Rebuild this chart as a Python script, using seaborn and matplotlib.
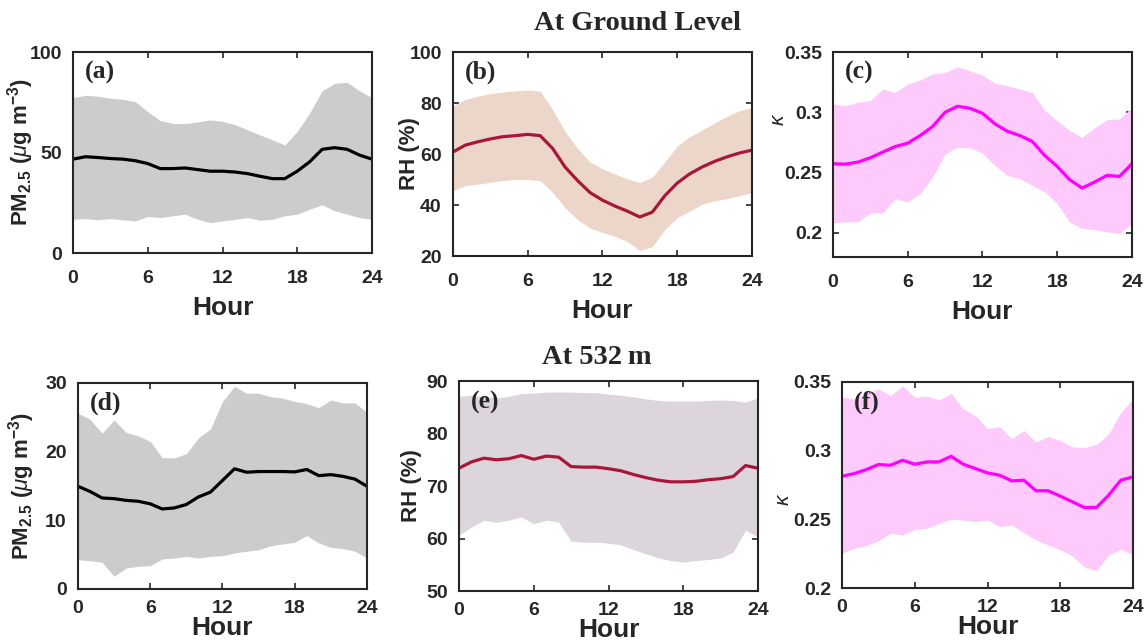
import numpy as np
import pandas as pd
import matplotlib
matplotlib.use("Agg")
import matplotlib.pyplot as plt
import seaborn as sns

# Diurnal data (hour 0..24)
hours = list(range(25))

# (a) PM2.5 at ground level
pm_g_mean = [46.7, 47.9, 47.5, 47.0, 46.7, 45.9, 44.5, 42.0, 42.0, 42.3, 41.5, 40.7, 40.7,
             40.3, 39.5, 38.2, 37.0, 37.0, 40.7, 45.4, 51.6, 52.4, 51.6, 48.7, 46.7]
pm_g_hi = [77.3, 78.5, 78.0, 77.0, 76.5, 75.3, 70.3, 65.9, 64.5, 64.4, 65.2, 66.2, 65.5,
           63.9, 61.3, 58.8, 56.3, 53.8, 60.5, 69.7, 80.7, 84.4, 84.9, 80.7, 77.3]
pm_g_lo = [16.8, 17.1, 16.5, 17.1, 16.5, 16.0, 18.2, 17.6, 18.5, 19.3, 16.8, 15.1, 16.0,
           16.8, 17.6, 16.3, 16.8, 18.5, 19.3, 21.8, 24.0, 21.0, 19.3, 17.6, 16.8]

# (b) RH at ground level
rh_g_mean = [60.8, 63.5, 64.8, 65.9, 66.8, 67.2, 67.7, 67.2, 62.2, 54.9, 49.6, 44.9, 41.9,
             39.6, 37.6, 35.3, 37.2, 43.6, 48.6, 52.2, 54.9, 57.1, 58.9, 60.4, 61.5]
rh_g_hi = [78.8, 81.4, 82.7, 83.7, 84.3, 84.7, 85.1, 84.7, 77.4, 68.8, 62.2, 56.9, 54.2,
           52.2, 50.2, 48.9, 50.9, 56.9, 63.1, 66.8, 69.5, 72.1, 74.8, 77.0, 78.1]
rh_g_lo = [45.6, 47.6, 48.2, 48.9, 49.6, 50.0, 50.0, 49.6, 44.9, 39.0, 34.3, 31.0, 29.3,
           27.7, 25.7, 22.1, 23.7, 30.3, 35.0, 37.6, 40.3, 41.6, 42.5, 43.6, 44.9]

# (c) kappa at ground level
k_g_mean = [0.2573, 0.2570, 0.2587, 0.2623, 0.2670, 0.2716, 0.2744, 0.2807, 0.2882, 0.3000,
            0.3050, 0.3033, 0.2992, 0.2904, 0.2843, 0.2807, 0.2758, 0.2642, 0.2551, 0.2441,
            0.2372, 0.2421, 0.2477, 0.2468, 0.2573]
k_g_hi = [0.3069, 0.3055, 0.3083, 0.3096, 0.3193, 0.3165, 0.3234, 0.3267, 0.3317, 0.3330,
          0.3377, 0.3344, 0.3309, 0.3240, 0.3220, 0.3193, 0.3165, 0.3014, 0.2931, 0.2849,
          0.2793, 0.2871, 0.2939, 0.2945, 0.3041]
k_g_lo = [0.2083, 0.2091, 0.2091, 0.2165, 0.2165, 0.2284, 0.2256, 0.2325, 0.2463, 0.2656,
          0.2711, 0.2705, 0.2661, 0.2559, 0.2477, 0.2449, 0.2394, 0.2339, 0.2242, 0.2091,
          0.2036, 0.2028, 0.2008, 0.1994, 0.2077]

# (d) PM2.5 at 532 m
pm_t_mean = [14.95, 14.2, 13.25, 13.15, 12.9, 12.77, 12.4, 11.65, 11.8, 12.3, 13.4, 14.1, 15.8,
             17.5, 17.0, 17.1, 17.1, 17.1, 17.05, 17.4, 16.5, 16.65, 16.4, 16.0, 14.95]
pm_t_hi = [25.6, 24.7, 22.7, 24.6, 22.8, 22.3, 21.5, 19.1, 19.1, 19.7, 22.0, 23.3, 27.3,
           29.5, 28.5, 28.5, 28.0, 27.8, 27.3, 27.0, 26.4, 27.5, 27.1, 27.1, 25.7]
pm_t_lo = [4.27, 4.1, 3.9, 1.85, 3.05, 3.3, 3.4, 4.37, 4.5, 4.75, 4.5, 4.75, 4.85,
           5.24, 5.5, 5.7, 6.3, 6.55, 6.8, 7.77, 6.7, 6.07, 5.87, 5.5, 4.5]

# (e) RH at 532 m
rh_t_mean = [73.4, 74.6, 75.3, 75.0, 75.2, 75.8, 75.1, 75.7, 75.5, 73.7, 73.6, 73.6, 73.3,
             72.9, 72.2, 71.6, 71.1, 70.8, 70.8, 70.9, 71.2, 71.4, 71.8, 73.9, 73.4]
rh_t_hi = [87.1, 87.3, 87.0, 86.8, 87.1, 87.6, 87.7, 87.9, 87.9, 87.9, 87.8, 87.8, 87.5,
           87.3, 87.0, 86.6, 86.3, 86.2, 86.2, 86.2, 86.3, 86.4, 86.3, 86.0, 86.8]
rh_t_lo = [60.6, 62.2, 63.5, 63.1, 63.5, 64.1, 62.8, 63.5, 63.1, 59.5, 59.3, 59.3, 59.1,
           58.8, 57.9, 57.1, 56.3, 55.8, 55.5, 55.8, 56.0, 56.3, 57.4, 61.6, 60.3]

# (f) kappa at 532 m
k_t_mean = [0.2814, 0.2833, 0.2862, 0.2899, 0.2894, 0.2930, 0.2901, 0.2918, 0.2918, 0.2959,
            0.2901, 0.2870, 0.2838, 0.2821, 0.2780, 0.2785, 0.2708, 0.2708, 0.2669, 0.2628,
            0.2585, 0.2587, 0.2676, 0.2785, 0.2809]
k_t_hi = [0.3389, 0.3377, 0.3418, 0.3449, 0.3401, 0.3473, 0.3389, 0.3396, 0.3370, 0.3418,
          0.3304, 0.3256, 0.3160, 0.3176, 0.3087, 0.3147, 0.3063, 0.3104, 0.3075, 0.3027,
          0.3022, 0.3046, 0.3123, 0.3280, 0.3377]
k_t_lo = [0.2254, 0.2290, 0.2307, 0.2345, 0.2399, 0.2386, 0.2428, 0.2435, 0.2471, 0.2500,
          0.2495, 0.2483, 0.2495, 0.2447, 0.2459, 0.2403, 0.2350, 0.2314, 0.2278, 0.2234,
          0.2152, 0.2128, 0.2242, 0.2283, 0.2242]

x_ticks = [0, 6, 12, 18, 24]
pm_g_ticks = [0, 50, 100]
rh_g_ticks = [20, 40, 60, 80, 100]
k_ticks = [0.2, 0.25, 0.3, 0.35]
pm_t_ticks = [0, 10, 20, 30]
rh_t_ticks = [50, 60, 70, 80, 90]

sns.set_style("ticks")
plt.rcParams['font.family'] = ['Liberation Sans', 'DejaVu Sans']
plt.rcParams['mathtext.fontset'] = 'custom'
plt.rcParams['mathtext.rm'] = 'Liberation Sans'
plt.rcParams['mathtext.bf'] = 'Liberation Sans:bold'
plt.rcParams['mathtext.it'] = 'Liberation Sans:italic'

FRAME = '#262626'
GRAY_BAND, BLACK = '#cccccc', '#000000'
TAN_BAND, CRIMSON = '#ecd6ca', '#a8173a'
PINK_BAND, MAGENTA = '#fec9fb', '#ff00ff'
LAV_BAND = '#ddd5dc'
PM_LABEL = r"$\mathbf{PM_{2.5}\ (}\mu\mathbf{g\ m^{-3})}$"
KAPPA = r'$\kappa$'

fig = plt.figure(figsize=(11.45, 6.42), dpi=100)

panels = [
    # rect, mean, lo, hi, band, line, ylim, yticks, ylabel, letter, label xy, top row
    ([0.0638, 0.6059, 0.2611, 0.3131], pm_g_mean, pm_g_lo, pm_g_hi, GRAY_BAND, BLACK,
     (0, 100), pm_g_ticks, PM_LABEL, '(a)', (-0.125, 0.5), True),
    ([0.3956, 0.6012, 0.2611, 0.3178], rh_g_mean, rh_g_lo, rh_g_hi, TAN_BAND, CRIMSON,
     (20, 100), rh_g_ticks, 'RH (%)', '(b)', (-0.11, 0.5), True),
    ([0.7275, 0.5997, 0.2611, 0.3193], k_g_mean, k_g_lo, k_g_hi, PINK_BAND, MAGENTA,
     (0.18, 0.35), k_ticks, KAPPA, '(c)', (-0.15, 0.67), True),
    ([0.0681, 0.0826, 0.2524, 0.3209], pm_t_mean, pm_t_lo, pm_t_hi, GRAY_BAND, BLACK,
     (0, 30), pm_t_ticks, PM_LABEL, '(d)', (-0.142, 0.5), False),
    ([0.4009, 0.0794, 0.2611, 0.3271], rh_t_mean, rh_t_lo, rh_t_hi, LAV_BAND, CRIMSON,
     (50, 90), rh_t_ticks, 'RH (%)', '(e)', (-0.125, 0.5), False),
    ([0.7354, 0.0841, 0.2541, 0.3209], k_t_mean, k_t_lo, k_t_hi, PINK_BAND, MAGENTA,
     (0.2, 0.35), k_ticks, KAPPA, '(f)', (-0.17, 0.43), False),
]

for rect, mean, lo, hi, band, line, ylim, yticks, ylabel, letter, lxy, top in panels:
    ax = fig.add_axes(rect)
    df = pd.DataFrame({'Hour': hours, 'mean': mean, 'lo': lo, 'hi': hi})
    ax.fill_between(df['Hour'], df['lo'], df['hi'], color=band, linewidth=0)
    sns.lineplot(data=df, x='Hour', y='mean', ax=ax, color=line, linewidth=2.3)
    ax.set_xlim(0, 24)
    ax.set_ylim(*ylim)
    ax.set_xticks(x_ticks)
    ax.set_xticklabels([str(t) for t in x_ticks])
    ax.set_yticks(yticks)
    ax.set_yticklabels([f"{t:g}" for t in yticks])
    for s in ax.spines.values():
        s.set_color(FRAME)
        s.set_linewidth(1.5)
    ax.tick_params(direction='in', top=True, right=True, length=4, width=1.2,
                   color=FRAME, labelcolor=FRAME, labelsize=14)
    ax.tick_params(axis='x', pad=12 if top else 8)
    ax.tick_params(axis='y', pad=8)
    for lab in ax.get_xticklabels() + ax.get_yticklabels():
        lab.set_fontweight('bold')
    ax.set_xlabel('Hour', fontsize=19, fontweight='bold', color=FRAME,
                  labelpad=7 if top else -1)
    if ylabel == KAPPA:
        ax.set_ylabel(ylabel, fontsize=15, color=FRAME)
    else:
        ax.set_ylabel(ylabel, fontsize=16, fontweight='bold', color=FRAME)
    ax.yaxis.set_label_coords(*lxy)
    ax.text(0.04, 0.90, letter, transform=ax.transAxes, fontsize=18.5,
            fontweight='bold', family='Liberation Serif', va='center', ha='left')

fig.text(638 / 1145, 1 - 23 / 642, 'At Ground Level', fontsize=20.5, fontweight='bold',
         family='Liberation Serif', ha='center', va='center')
fig.text(597 / 1145, 1 - 358 / 642, 'At 532\u2009m', fontsize=20.5, fontweight='bold',
         family=['Liberation Serif', 'DejaVu Serif'], ha='center', va='center')

fig.savefig('out.png', dpi=100)
